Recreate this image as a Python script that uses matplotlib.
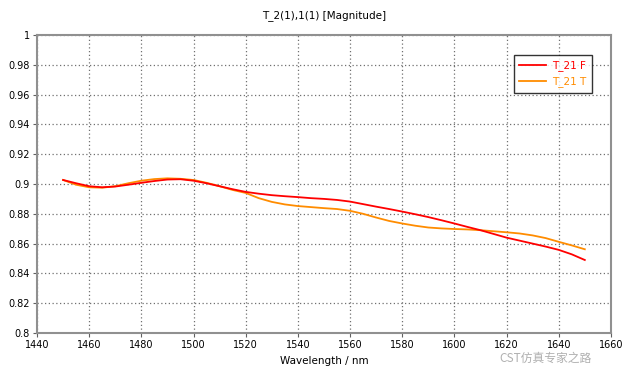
import numpy as np
import matplotlib.pyplot as plt

# ----------------------------------------------------------------
# Data
# ----------------------------------------------------------------
wavelength = [1450, 1455, 1460, 1465, 1470, 1475, 1480, 1485, 1490, 1495,
              1500, 1505, 1510, 1515, 1520, 1525, 1530, 1535, 1540, 1545,
              1550, 1555, 1560, 1565, 1570, 1575, 1580, 1585, 1590, 1595,
              1600, 1605, 1610, 1615, 1620, 1625, 1630, 1635, 1640, 1645,
              1650]

t21_f = [0.9027, 0.9005, 0.8985, 0.8978, 0.8983, 0.8995, 0.9008, 0.9020,
         0.9030, 0.9032, 0.9022, 0.9005, 0.8985, 0.8965, 0.8947, 0.8935,
         0.8925, 0.8918, 0.8912, 0.8905, 0.8900, 0.8893, 0.8882, 0.8865,
         0.8848, 0.8832, 0.8815, 0.8797, 0.8778, 0.8757, 0.8735, 0.8712,
         0.8690, 0.8665, 0.8640, 0.8620, 0.8600, 0.8580, 0.8558, 0.8528,
         0.8490]

t21_t = [0.9027, 0.8995, 0.8978, 0.8975, 0.8985, 0.9005, 0.9022, 0.9033,
         0.9038, 0.9035, 0.9027, 0.9008, 0.8985, 0.8960, 0.8940, 0.8905,
         0.8880, 0.8863, 0.8852, 0.8845, 0.8838, 0.8832, 0.8820, 0.8800,
         0.8775, 0.8752, 0.8735, 0.8720, 0.8708, 0.8702, 0.8698, 0.8695,
         0.8690, 0.8683, 0.8676, 0.8668, 0.8655, 0.8637, 0.8612, 0.8588,
         0.8562]

x_ticks = np.arange(1440, 1661, 20)
y_ticks = np.arange(0.80, 1.001, 0.02)

# ----------------------------------------------------------------
# Plot
# ----------------------------------------------------------------
plt.rcParams['font.family'] = ['DejaVu Sans']
fig = plt.figure(figsize=(6.24, 3.71), dpi=100)
ax = fig.add_axes([0.0593, 0.1024, 0.9197, 0.8033])

ax.plot(wavelength, t21_t, color='#ff8c00', linewidth=1.3, label='T_21 T',
        zorder=3)
ax.plot(wavelength, t21_f, color='#ff0000', linewidth=1.3, label='T_21 F',
        zorder=4)

ax.set_xlim(1440, 1660)
ax.set_ylim(0.8, 1.0)
ax.set_xticks(x_ticks)
ax.set_yticks(y_ticks)
ax.set_xticklabels([str(v) for v in x_ticks], fontsize=7)
ax.set_yticklabels(['0.8'] + [f'{v:.2f}'.rstrip('0') for v in y_ticks[1:-1]]
                   + ['1'], fontsize=7)
ax.tick_params(axis='both', length=3, width=0.8, color='#606060', pad=2)

ax.grid(True, color='#707070', linestyle=(0, (1.0, 2)), linewidth=0.9)
for sp in ax.spines.values():
    sp.set_color('#909090')
    sp.set_linewidth(1.5)

ax.set_title('T_2(1),1(1) [Magnitude]', fontsize=7.5, pad=12)
ax.set_xlabel('Wavelength / nm', fontsize=7.5, labelpad=4)

handles, labels = ax.get_legend_handles_labels()
leg = ax.legend(handles[::-1], labels[::-1], loc='upper right',
                bbox_to_anchor=(0.976, 0.95), fontsize=7.5, frameon=True,
                fancybox=False, handlelength=2.6, borderpad=0.5,
                labelspacing=0.5, handletextpad=0.6)
leg.get_frame().set_edgecolor('black')
leg.get_frame().set_linewidth(1.0)
for txt, line in zip(leg.get_texts(), leg.get_lines()):
    txt.set_color(line.get_color())

# watermark (kept just below the tick labels)
fig.text(0.80, 0.035, 'CST仿真专家之路', fontsize=8.5, color='#b0b0b0',
         family=['Noto Sans CJK SC', 'DejaVu Sans'], va='center')

fig.savefig('out.png', dpi=100)
